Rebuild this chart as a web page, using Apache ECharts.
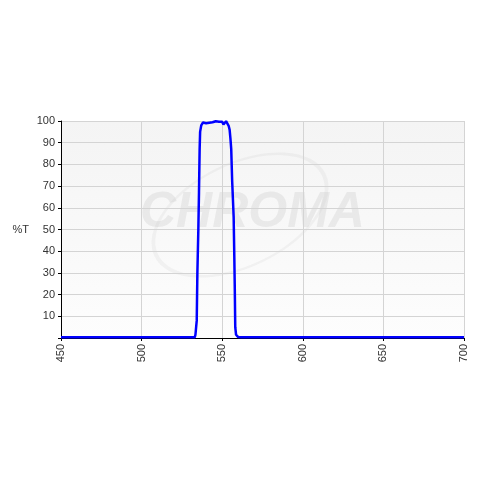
<!DOCTYPE html>
<html><head><meta charset="utf-8">
<script src="https://cdn.jsdelivr.net/npm/echarts@6/dist/echarts.min.js"></script>
<style>html,body{margin:0;padding:0;background:#fff}#c{width:480px;height:480px}</style>
</head><body><div id="c"></div>
<script>
const wavelengths = [450, 500, 530, 533, 533.4, 534.2, 534.4, 534.6, 535.2, 535.6, 536.0, 536.3, 537.0, 538.1, 539, 540, 541, 542, 543, 544, 545, 546, 547, 548, 549, 550, 550.8, 551.6, 552.4, 553.2, 554, 554.6, 555.1, 555.6, 556.2, 557.1, 557.5, 557.8, 558.1, 558.6, 559.8, 562, 600, 650, 700];
const transmission = [0.3, 0.3, 0.3, 0.4, 1.5, 8, 19, 30, 50, 67, 87, 95, 98, 99.3, 99.8, 99.0, 99.9, 99.2, 100, 99.4, 99.8, 99.9, 99.3, 99.7, 99.4, 99.6, 98.4, 99.0, 99.9, 99.2, 97.8, 96, 92, 87, 72, 56, 38, 23, 5, 1.5, 0.5, 0.3, 0.3, 0.3, 0.3];
const xTicks = [450, 500, 550, 600, 650, 700];
const yTicks = [10, 20, 30, 40, 50, 60, 70, 80, 90, 100];

const chart = echarts.init(document.getElementById('c'), null, {renderer: 'canvas'});
const font = 'Liberation Sans, Arial, sans-serif';
chart.setOption({
  animation: false,
  backgroundColor: '#fff',
  graphic: [
    {type: 'text', left: 140, top: 188, silent: true, z: 0,
     style: {text: 'CHROMA', font: 'italic bold 50px Liberation Sans, Arial, sans-serif', fill: 'rgba(200,200,200,0.3)'}},
    {type: 'ring', shape: {cx: 240, cy: 215, r: 95, r0: 91}, silent: true, z: 0,
     scaleY: 0.55, rotation: 0.45, originX: 240, originY: 215,
     style: {fill: 'rgba(200,200,200,0.18)'}}
  ],
  grid: {left: 61, right: 16, top: 121, bottom: 142, show: true, borderWidth: 0,
         backgroundColor: {type: 'linear', x: 0, y: 0, x2: 0, y2: 1,
           colorStops: [{offset: 0, color: '#f4f4f4'}, {offset: 1, color: '#fdfdfd'}]}},
  xAxis: {
    type: 'value', min: 450, max: 700, interval: 50,
    axisLine: {show: true, onZero: false, lineStyle: {color: '#000', width: 1}},
    axisTick: {show: true, length: 3, lineStyle: {color: '#000'}},
    axisLabel: {rotate: 90, color: '#333', fontFamily: font, fontSize: 11, margin: 6,
      formatter: v => xTicks.includes(v) ? String(v) : ''},
    splitLine: {show: true, lineStyle: {color: '#d4d4d4', width: 1}}
  },
  yAxis: {
    type: 'value', min: 0, max: 100, interval: 10,
    name: '%T', nameLocation: 'middle', nameRotate: 0, nameGap: 32,
    nameTextStyle: {color: '#333', fontFamily: font, fontSize: 11},
    axisLine: {show: true, lineStyle: {color: '#000', width: 1}},
    axisTick: {show: true, length: 3, lineStyle: {color: '#000'}},
    axisLabel: {color: '#333', fontFamily: font, fontSize: 11, margin: 6,
      formatter: v => yTicks.includes(v) ? String(v) : ''},
    splitLine: {show: true, lineStyle: {color: '#d4d4d4', width: 1}}
  },
  series: [{
    type: 'line', showSymbol: false, symbol: 'none', smooth: false,
    data: wavelengths.map((w, i) => [w, transmission[i]]),
    lineStyle: {color: '#0000ff', width: 2.5}, z: 5
  }]
});
</script></body></html>
